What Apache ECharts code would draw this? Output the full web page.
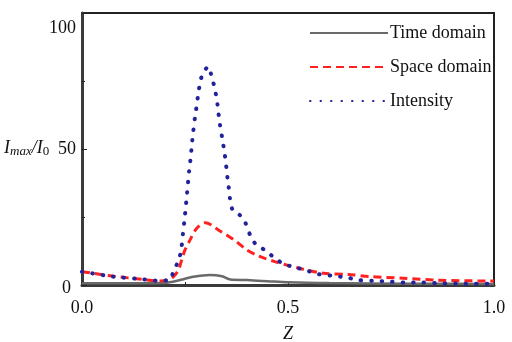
<!DOCTYPE html>
<html>
<head>
<meta charset="utf-8">
<script src="https://cdn.jsdelivr.net/npm/echarts@6/dist/echarts.min.js"></script>
<style>
  html, body { margin: 0; padding: 0; background: #fff; }
  #chart { width: 512px; height: 342px; }
</style>
</head>
<body>
<div id="chart"></div>
<script>
// curve samples (z position, I_max/I_0)
var timeZ = [0, 0.1, 0.2, 0.22, 0.24, 0.27, 0.31, 0.34, 0.36, 0.4, 0.45, 0.5, 0.6, 0.8, 1.0];
var timeV = [0.6, 0.6, 0.7, 1.2, 1.9, 3.0, 3.7, 3.2, 2.0, 1.8, 1.4, 1.0, 0.7, 0.5, 0.4];

var spaceZ = [0, 0.074, 0.15, 0.19, 0.21, 0.222, 0.234, 0.242, 0.25, 0.262, 0.278, 0.299, 0.315,
  0.331, 0.351, 0.375, 0.4, 0.424, 0.444, 0.468, 0.5, 0.537, 0.586, 0.646, 0.699, 0.78, 0.861, 0.982, 1.0];
var spaceV = [4.9, 3.3, 2.0, 1.5, 2.0, 3.1, 5.5, 9.2, 12.9, 16.5, 20.8, 22.9, 22.0,
  20.2, 18.4, 15.9, 12.9, 11.0, 9.8, 8.6, 7.2, 5.8, 4.3, 3.9, 3.1, 2.5, 1.8, 1.5, 1.5];

var intenZ = [0, 0.074, 0.148, 0.18, 0.213, 0.222, 0.236, 0.242, 0.245, 0.248, 0.251, 0.254, 0.257,
  0.26, 0.264, 0.267, 0.27, 0.274, 0.278, 0.281, 0.285, 0.292, 0.306, 0.316, 0.323, 0.328, 0.331,
  0.335, 0.34, 0.345, 0.349, 0.352, 0.356, 0.359, 0.365, 0.383, 0.397, 0.408, 0.42, 0.443, 0.464,
  0.489, 0.513, 0.541, 0.574, 0.612, 0.642, 0.671, 0.714, 0.75, 0.786, 0.828, 0.869, 0.93, 1.0];
var intenV = [4.9, 3.1, 2.1, 1.6, 1.8, 5.0, 9.6, 14.5, 18.8, 22.9, 27.3, 32.2, 37.1,
  41.9, 47.2, 52.1, 56.4, 61.3, 65.6, 68.9, 73.0, 77.5, 80.3, 76.0, 71.7, 67.4, 63.4,
  58.8, 54.3, 49.6, 45.2, 40.8, 36.1, 31.9, 27.8, 25.7, 22.7, 18.4, 15.3, 12.9, 10.4,
  7.7, 6.7, 5.5, 4.0, 3.3, 2.8, 1.8, 1.5, 1.2, 0.9, 0.9, 0.6, 0.5, 0.5];

var seriesNames = ['Time domain', 'Space domain', 'Intensity'];

var font = 'Liberation Serif';

function pairs(zs, vs) {
  return zs.map(function (z, i) { return [z, vs[i]]; });
}

var chart = echarts.init(document.getElementById('chart'));

var option = {
  backgroundColor: '#fff',
  animation: false,
  grid: {
    left: 82, right: 18, top: 13, bottom: 57,
    outerBoundsMode: 'none',
    show: true, borderColor: '#222', borderWidth: 2
  },
  legend: {
    data: seriesNames,
    orient: 'vertical',
    left: 304,
    top: 19,
    itemWidth: 78,
    itemHeight: 14,
    itemGap: 16,
    itemStyle: { color: 'rgba(0,0,0,0)', borderWidth: 0 },
    textStyle: { fontFamily: font, fontSize: 18, color: '#111', padding: [0, 0, 0, -3] }
  },
  xAxis: {
    type: 'value',
    min: 0, max: 1, interval: 0.5,
    axisLine: { lineStyle: { color: '#3a3a3a', width: 3 } },
    axisTick: { inside: true, length: 4, lineStyle: { color: '#222' } },
    minorTick: { show: true, splitNumber: 2, length: 3, lineStyle: { color: '#222' } },
    splitLine: { show: false },
    axisLabel: {
      fontFamily: font, fontSize: 18, color: '#111', margin: 14,
      formatter: function (v) { return v.toFixed(1); }
    },
    name: 'Z',
    nameLocation: 'middle',
    nameGap: 40,
    nameTextStyle: { fontFamily: font, fontSize: 18, fontStyle: 'italic', color: '#111' }
  },
  yAxis: {
    type: 'value',
    min: 0, max: 100, interval: 50,
    axisLine: { show: true, lineStyle: { color: '#3a3a3a', width: 3 } },
    axisTick: { show: true, inside: true, length: 5, lineStyle: { color: '#222' } },
    minorTick: { show: true, splitNumber: 2, length: 3, lineStyle: { color: '#222' } },
    splitLine: { show: false },
    axisLabel: {
      fontFamily: font, fontSize: 18, color: '#111', margin: 6,
      formatter: function (v) {
        if (v === 100) return '{top|100}';
        if (v === 0) return '{low|0}';
        return String(v);
      },
      rich: {
        top: { fontFamily: font, fontSize: 18, color: '#111', padding: [30, 0, 0, 0] },
        low: { fontFamily: font, fontSize: 18, color: '#111', padding: [6, 5, 0, 0] }
      }
    }
  },
  graphic: [{
    type: 'text',
    left: 4,
    top: 139,
    style: {
      text: '{i|I}{s|max}{i|/I}{z|0}',
      rich: {
        i: { fontFamily: font, fontSize: 18, fontStyle: 'italic', fill: '#111' },
        s: { fontFamily: font, fontSize: 13, fontStyle: 'italic', fill: '#111', padding: [8, 0, 0, 0] },
        z: { fontFamily: font, fontSize: 13, fill: '#111', padding: [8, 0, 0, 0] }
      }
    }
  }],
  series: [
    {
      name: seriesNames[0],
      type: 'line',
      data: pairs(timeZ, timeV),
      symbol: 'none',
      smooth: 0.3,
      color: '#6a6a6a',
      lineStyle: { color: '#6a6a6a', width: 2.5 }
    },
    {
      name: seriesNames[1],
      type: 'line',
      data: pairs(spaceZ, spaceV),
      symbol: 'none',
      smooth: 0.3,
      color: '#ff2020',
      lineStyle: { color: '#ff2020', width: 3, type: [8, 5] }
    },
    {
      name: seriesNames[2],
      type: 'line',
      data: pairs(intenZ, intenV),
      symbol: 'none',
      smooth: 0.2,
      color: '#22229a',
      lineStyle: { color: '#22229a', width: 4, type: [0.5, 10], cap: 'round' }
    }
  ]
};

chart.setOption(option);
</script>
</body>
</html>
